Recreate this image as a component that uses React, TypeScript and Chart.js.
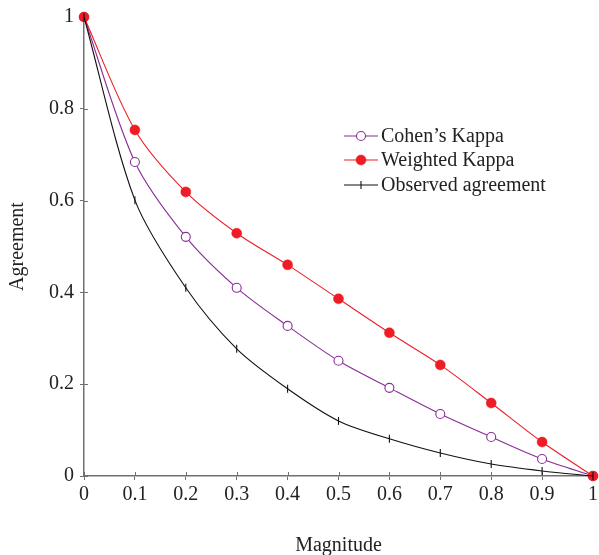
import React, { useEffect, useRef } from "react";
import { Chart, registerables } from "chart.js";

Chart.register(...registerables);

const magnitudes = [0, 0.1, 0.2, 0.3, 0.4, 0.5, 0.6, 0.7, 0.8, 0.9, 1];
const cohensKappa = [1, 0.684, 0.521, 0.41, 0.327, 0.251, 0.192, 0.135, 0.085, 0.037, 0];
const weightedKappa = [1, 0.754, 0.619, 0.529, 0.46, 0.386, 0.312, 0.242, 0.159, 0.074, 0];
const observedAgreement = [1, 0.601, 0.41, 0.277, 0.19, 0.12, 0.081, 0.05, 0.026, 0.011, 0];
const xTickValues = [0, 0.1, 0.2, 0.3, 0.4, 0.5, 0.6, 0.7, 0.8, 0.9, 1];
const yTickValues = [0, 0.2, 0.4, 0.6, 0.8, 1];
const seriesLabels = ["Cohen\u2019s Kappa", "Weighted Kappa", "Observed agreement"];

const FONT = "'Liberation Serif', 'DejaVu Serif', serif";
const AXIS = "#707070";
const PURPLE = "#8a2c98";
const RED = "#ee1c25";
const BLACK = "#111111";

const innerTicks = {
  id: "innerTicks",
  beforeDatasetsDraw(chart: any) {
    const { ctx, chartArea, scales } = chart;
    ctx.save();
    ctx.strokeStyle = AXIS;
    ctx.lineWidth = 1;
    for (const v of xTickValues) {
      const x = Math.round(scales.x.getPixelForValue(v)) + 0.5;
      ctx.beginPath();
      ctx.moveTo(x, chartArea.bottom);
      ctx.lineTo(x, chartArea.bottom - 4);
      ctx.stroke();
    }
    for (const v of yTickValues) {
      const y = Math.round(scales.y.getPixelForValue(v)) + 0.5;
      ctx.beginPath();
      ctx.moveTo(chartArea.left, y);
      ctx.lineTo(chartArea.left + 4, y);
      ctx.stroke();
    }
    ctx.restore();
  },
};

const lineLegend = {
  id: "lineLegend",
  afterDraw(chart: any) {
    const { ctx } = chart;
    const x0 = 344;
    const x1 = 378;
    const rows = [136, 160, 185];
    ctx.save();
    chart.data.datasets.forEach((ds: any, i: number) => {
      const y = rows[i];
      ctx.strokeStyle = ds.borderColor;
      ctx.lineWidth = ds.borderWidth;
      ctx.beginPath();
      ctx.moveTo(x0, y);
      ctx.lineTo(x1, y);
      ctx.stroke();
      const mx = (x0 + x1) / 2;
      if (ds.pointStyle === "circle") {
        ctx.beginPath();
        ctx.arc(mx, y, ds.pointRadius, 0, Math.PI * 2);
        ctx.fillStyle = ds.pointBackgroundColor;
        ctx.fill();
        ctx.lineWidth = ds.pointBorderWidth;
        ctx.strokeStyle = ds.pointBorderColor;
        ctx.stroke();
      } else {
        ctx.lineWidth = ds.pointBorderWidth;
        ctx.strokeStyle = ds.pointBorderColor;
        ctx.beginPath();
        ctx.moveTo(mx, y - ds.pointRadius);
        ctx.lineTo(mx, y + ds.pointRadius);
        ctx.stroke();
      }
      ctx.fillStyle = "#222";
      ctx.font = `20px ${FONT}`;
      ctx.textBaseline = "middle";
      ctx.textAlign = "left";
      ctx.fillText(ds.label, x1 + 3, y + 1);
    });
    ctx.restore();
  },
};

export default function App() {
  const ref = useRef<HTMLCanvasElement | null>(null);
  useEffect(() => {
    if (!ref.current) return;
    const mk = (arr: number[]) => arr.map((v, i) => ({ x: magnitudes[i], y: v }));
    const chart = new Chart(ref.current, {
      type: "line",
      data: {
        datasets: [
          {
            label: seriesLabels[0],
            data: mk(cohensKappa),
            order: 2,
            clip: false,
            borderColor: PURPLE,
            borderWidth: 1.1,
            pointStyle: "circle",
            pointRadius: 4.5,
            pointBorderWidth: 1.1,
            pointBorderColor: PURPLE,
            pointBackgroundColor: "#ffffff",
            tension: 0.3,
          },
          {
            label: seriesLabels[1],
            data: mk(weightedKappa),
            order: 1,
            clip: false,
            borderColor: RED,
            borderWidth: 1.1,
            pointStyle: "circle",
            pointRadius: 5,
            pointBorderWidth: 0.5,
            pointBorderColor: RED,
            pointBackgroundColor: RED,
            tension: 0.3,
          },
          {
            label: seriesLabels[2],
            data: mk(observedAgreement),
            order: 0,
            clip: false,
            borderColor: BLACK,
            borderWidth: 1.1,
            pointStyle: "line",
            rotation: 90,
            pointRadius: 4,
            pointBorderWidth: 1.1,
            pointBorderColor: BLACK,
            pointBackgroundColor: BLACK,
            tension: 0.3,
          } as any,
        ],
      },
      options: {
        animation: false,
        responsive: false,
        events: [],
        layout: { padding: { left: 0, top: 17, right: 6, bottom: 0 } },
        plugins: {
          legend: { display: false },
          tooltip: { enabled: false },
        },
        scales: {
          x: {
            type: "linear",
            min: 0,
            max: 1,
            afterBuildTicks: (s: any) => {
              s.ticks = xTickValues.map((v) => ({ value: v }));
            },
            afterFit: (s: any) => {
              s.height = 79;
              s.paddingLeft = 0;
              s.paddingRight = 0;
            },
            ticks: {
              color: "#222",
              font: { family: FONT, size: 20 },
              padding: 3,
              maxRotation: 0,
              autoSkip: false,
              callback: (v: any) => String(v),
            },
            grid: {
              drawOnChartArea: false,
              drawTicks: true,
              tickLength: 4,
              color: AXIS,
            },
            border: { display: true, color: AXIS, width: 1.5 },
            title: {
              display: true,
              text: "Magnitude",
              color: "#222",
              font: { family: FONT, size: 20, lineHeight: 1 },
              padding: { top: 0, bottom: -1 },
            },
          },
          y: {
            type: "linear",
            min: 0,
            max: 1,
            afterBuildTicks: (s: any) => {
              s.ticks = yTickValues.map((v) => ({ value: v }));
            },
            afterFit: (s: any) => {
              s.width = 84;
              s.paddingTop = 0;
              s.paddingBottom = 0;
            },
            ticks: {
              color: "#222",
              font: { family: FONT, size: 20 },
              padding: 6,
              autoSkip: false,
              callback: (v: any) => String(v),
            },
            grid: {
              drawOnChartArea: false,
              drawTicks: true,
              tickLength: 4,
              color: AXIS,
            },
            border: { display: true, color: AXIS, width: 1.5 },
            title: {
              display: true,
              text: "Agreement",
              color: "#222",
              font: { family: FONT, size: 20, lineHeight: 1 },
              padding: { top: 8, bottom: 0 },
            },
          },
        },
      },
      plugins: [innerTicks, lineLegend],
    });
    return () => chart.destroy();
  }, []);
  return (
    <div style={{ position: "absolute", left: 0, top: 0, width: 599, height: 555, background: "#fff" }}>
      <canvas ref={ref} width={599} height={555} />
    </div>
  );
}
